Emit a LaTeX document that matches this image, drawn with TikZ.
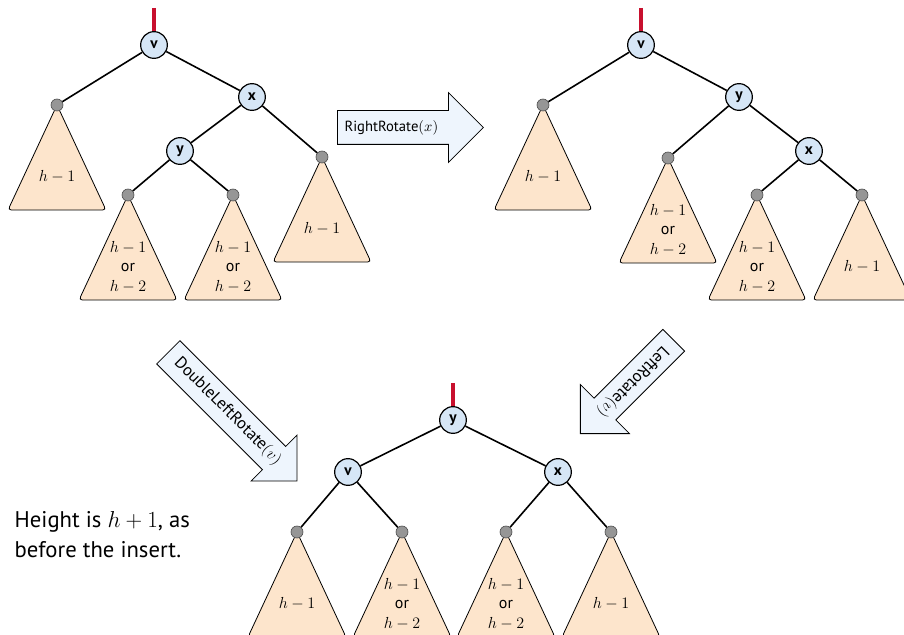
\documentclass[tikz,border=0pt]{standalone}
\usepackage{amsmath}
\usepackage{fontspec}
\setsansfont{PT Sans}
\usepackage{tikz}
\usetikzlibrary{positioning,shapes.arrows,calc}

\definecolor{nodeblue}{RGB}{214,230,246}
\definecolor{arrowblue}{RGB}{238,245,253}
\definecolor{treeorange}{RGB}{253,229,204}
\definecolor{rootred}{RGB}{200,16,46}
\definecolor{leafgray}{RGB}{150,150,150}

% subtree hanging below a leaf dot: name, apex, label
\newcommand{\subtree}[3]{%
  \draw[treeshape] #2 -- ++(-49,105) -- ++(98,0) -- cycle;
  \node[treelabel] at ($#2+(0,72)$) {#3};
  \node[leaf] (#1) at #2 {};
}
\newcommand{\hboth}{$h-1$\\or\\$h-2$}
% invisible strut that sets the shaft width of an arrow
\newcommand{\shaft}[1]{\rule{0pt}{#1}}

\begin{document}
\begin{tikzpicture}[x=0.75pt,y=-0.75pt,
    every node/.style={font=\sffamily},
    keynode/.style={circle,draw,line width=0.9pt,fill=nodeblue,minimum size=20pt,inner sep=0pt,
      font=\sffamily\bfseries\fontsize{11.5}{13}\selectfont},
    leaf/.style={circle,draw=black!70,line width=0.5pt,fill=leafgray,minimum size=9pt,inner sep=0pt},
    treeshape/.style={draw,line width=0.6pt,fill=treeorange,rounded corners=2.5pt},
    treelabel/.style={align=center,font=\sffamily\fontsize{12}{14.6}\selectfont},
    edge/.style={line width=1.2pt},
    rootline/.style={line width=3pt,rootred},
    rotarrow/.style={single arrow,draw,line width=0.6pt,fill=arrowblue,single arrow tip angle=90,
      inner sep=0pt,anchor=tail},
    rotlabel/.style={inner sep=0pt,font=\sffamily\fontsize{11}{13}\selectfont}]
  \path[use as bounding box,clip] (0,0) rectangle (904,635);

  % before: v with right child x, x with left child y
  \subtree{a1}{(57,105)}{$h-1$}
  \subtree{b1}{(128,195)}{\hboth}
  \subtree{c1}{(233,195)}{\hboth}
  \subtree{d1}{(322,157)}{$h-1$}
  \node[keynode] (v1) at (154,45) {v};
  \node[keynode] (x1) at (252,97) {x};
  \node[keynode] (y1) at (180,151) {y};
  \coordinate (r1) at (154,8);
  \draw[rootline] (r1) -- (v1);
  \draw[edge] (v1) -- (a1);
  \draw[edge] (v1) -- (x1);
  \draw[edge] (x1) -- (y1);
  \draw[edge] (x1) -- (d1);
  \draw[edge] (y1) -- (b1);
  \draw[edge] (y1) -- (c1);

  % after the right rotation at x
  \subtree{a2}{(543,105)}{$h-1$}
  \subtree{b2}{(668,158)}{\hboth}
  \subtree{c2}{(757,195)}{\hboth}
  \subtree{d2}{(862,195)}{$h-1$}
  \node[keynode] (v2) at (641,45) {v};
  \node[keynode] (y2) at (739,97) {y};
  \node[keynode] (x2) at (809,151) {x};
  \coordinate (r2) at (641,8);
  \draw[rootline] (r2) -- (v2);
  \draw[edge] (v2) -- (a2);
  \draw[edge] (v2) -- (y2);
  \draw[edge] (y2) -- (b2);
  \draw[edge] (y2) -- (x2);
  \draw[edge] (x2) -- (c2);
  \draw[edge] (x2) -- (d2);

  % after the double rotation
  \subtree{a3}{(297,532)}{$h-1$}
  \subtree{b3}{(402,532)}{\hboth}
  \subtree{c3}{(506,532)}{\hboth}
  \subtree{d3}{(611,532)}{$h-1$}
  \node[keynode] (y3) at (453,420) {y};
  \node[keynode] (v3) at (348,472) {v};
  \node[keynode] (x3) at (558,472) {x};
  \coordinate (r3) at (453,383);
  \draw[rootline] (r3) -- (y3);
  \draw[edge] (y3) -- (v3);
  \draw[edge] (y3) -- (x3);
  \draw[edge] (v3) -- (a3);
  \draw[edge] (v3) -- (b3);
  \draw[edge] (x3) -- (c3);
  \draw[edge] (x3) -- (d3);

  % rotation arrows
  \node[rotarrow,minimum height=109.5pt,single arrow head extend=13.5pt]
    (rr) at (337,127.5) {\shaft{24.75pt}};
  \node[rotlabel] (rrtext) at ($(rr.tail)!0.37!(rr.tip)$) {RightRotate$(x)$};
  \node[rotarrow,minimum height=136.5pt,single arrow head extend=12pt,
    rotate=-45] (dlr) at (168,352) {\shaft{24pt}};
  \node[rotlabel,rotate=-45,font=\sffamily\fontsize{12.5}{14}\selectfont]
    (dlrtext) at ($(dlr.tail)!0.46!(dlr.tip)$) {DoubleLeftRotate$(v)$};
  \node[rotarrow,minimum height=99pt,single arrow head extend=14.5pt,
    rotate=225] (lr) at (674,340) {\shaft{22.5pt}};
  \node[rotlabel,rotate=225,font=\sffamily\fontsize{12.5}{14}\selectfont]
    (lrtext) at ($(lr.tail)!0.44!(lr.tip)$) {LeftRotate$(v)$};

  \node[anchor=north west,align=left,font=\sffamily\fontsize{17}{22.5}\selectfont]
    (note) at (10,507) {Height is $h+1$, as\\before the insert.};
\end{tikzpicture}
\end{document}
